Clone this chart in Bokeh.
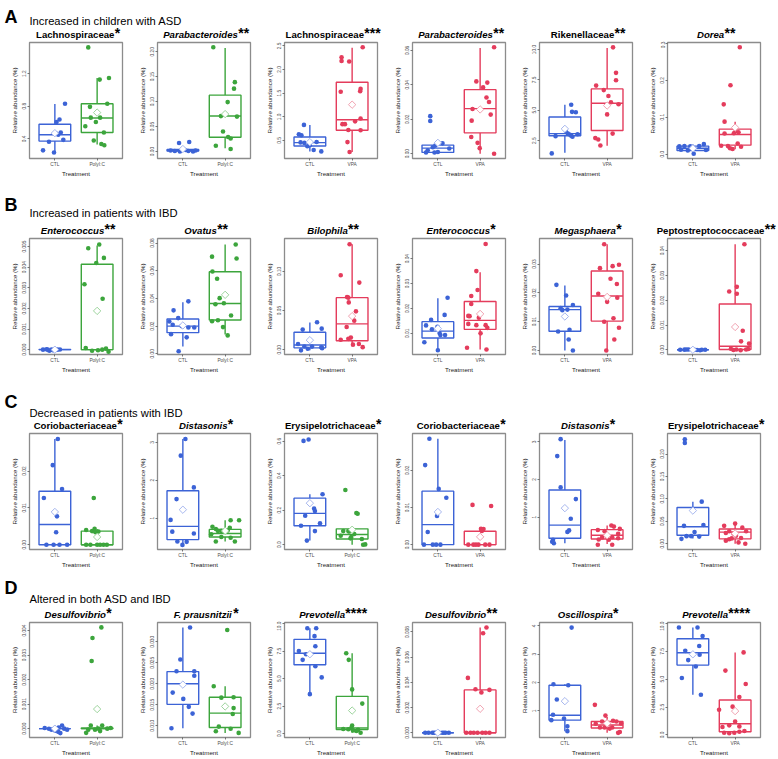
import math
from bokeh.plotting import figure
from bokeh.layouts import column, row
from bokeh.models import Range1d, FixedTicker, PrintfTickFormatter
from bokeh.core.properties import value
from bokeh.embed import file_html
from bokeh.resources import INLINE

# ---------------------------------------------------------------- text data
row_letters = ["A", "B", "C", "D"]
row_headers = ["Increased in children with ASD", "Increased in patients with IBD",
               "Decreased in patients with IBD", "Altered in both ASD and IBD"]
titles = ["Lachnospiraceae", "Parabacteroides", "Lachnospiraceae", "Parabacteroides", "Rikenellaceae", "Dorea",
          "Enterococcus", "Ovatus", "Bilophila", "Enterococcus", "Megasphaera", "Peptostreptococcaceae",
          "Coriobacteriaceae", "Distasonis", "Erysipelotrichaceae", "Coriobacteriaceae", "Distasonis", "Erysipelotrichaceae",
          "Desulfovibrio", "F. prausnitzii", "Prevotella", "Desulfovibrio", "Oscillospira", "Prevotella"]
title_italic = [False, True, False, True, False, True,
                True, True, True, True, True, False,
                False, True, False, False, True, False,
                True, True, True, True, True, True]
title_stars = ["*", "**", "***", "**", "**", "**",
               "**", "**", "**", "*", "*", "**",
               "*", "*", "*", "*", "*", "*",
               "*", "*", "****", "**", "*", "****"]
treatments = ["PolyI:C", "PolyI:C", "VPA", "VPA", "VPA", "VPA",
              "PolyI:C", "PolyI:C", "VPA", "VPA", "VPA", "VPA",
              "PolyI:C", "PolyI:C", "PolyI:C", "VPA", "VPA", "VPA",
              "PolyI:C", "PolyI:C", "PolyI:C", "VPA", "VPA", "VPA"]
x_title = "Treatment"
y_title = "Relative abundance (%)"

# ---------------------------------------------------------------- values
# box = [lower whisker, Q1, median, Q3, upper whisker]; means = [CTL, treatment]
a1_ctl = [0.83, 0.637, 0.606, 0.478, 0.47, 0.365, 0.388, 0.26, 0.233, 0.45]
a1_ctl_dx = [0.24, 0.11, 0.04, 0.14, 0.02, -0.14, 0.20, -0.28, -0.02, 0.08]
a1_trt = [1.52, 1.126, 1.146, 0.792, 0.831, 0.66, 0.66, 0.606, 0.555, 0.478, 0.38, 0.338, 0.322]
a1_trt_dx = [-0.21, 0.06, 0.28, -0.17, 0.24, -0.15, 0.07, -0.03, -0.28, 0.16, -0.08, 0.10, 0.17]
a1_box_ctl = [0.237, 0.373, 0.45, 0.579, 0.827]
a1_box_trt = [0.33, 0.478, 0.656, 0.831, 1.146]
a1_means = [0.47, 0.722]
a1_yr = [0.16, 1.58]
a1_ticks = ["0.4", "0.8", "1.2"]

a2_ctl = [0.017, 0.019, 0.005, 0.002, 0.001, 0.0, 0.003, 0.001, 0.0, 0.002]
a2_ctl_dx = [-0.09, 0.15, -0.01, -0.29, -0.19, -0.07, 0.06, 0.13, 0.24, 0.30]
a2_trt = [0.209, 0.139, 0.126, 0.099, 0.04, 0.0115, 0.005, 0.029, 0.026, 0.07, 0.071]
a2_trt_dx = [-0.28, 0.23, 0.21, 0.06, -0.05, -0.22, 0.13, 0.07, 0.13, 0.28, -0.10]
a2_box_ctl = [0.0, 0.001, 0.002, 0.004, 0.005]
a2_box_trt = [0.0064, 0.0287, 0.0713, 0.113, 0.2076]
a2_means = [0.005, 0.075]
a2_yr = [-0.014, 0.2185]
a2_ticks = ["0.00", "0.05", "0.10", "0.15", "0.20"]

a3_ctl = [0.83, 0.63, 0.61, 0.46, 0.45, 0.47, 0.30, 0.27, 0.40, 0.38]
a3_ctl_dx = [-0.14, -0.26, -0.20, -0.22, -0.13, 0.16, 0.09, 0.27, 0.0, -0.06]
a3_trt = [2.47, 2.26, 2.18, 2.17, 1.53, 1.54, 1.59, 0.845, 0.845, 0.905, 0.966, 0.723, 0.716, 0.466, 0.257]
a3_trt_dx = [0.25, -0.25, -0.25, -0.07, -0.27, 0.19, 0.20, -0.23, -0.17, 0.07, 0.20, -0.09, 0.20, -0.11, -0.06]
a3_box_ctl = [0.27, 0.385, 0.455, 0.574, 0.83]
a3_box_trt = [0.257, 0.716, 0.94, 1.73, 2.46]
a3_means = [0.466, 1.257]
a3_yr = [0.12, 2.57]
a3_ticks = ["0.5", "1.0", "1.5", "2.0", "2.5"]

a4_ctl = [0.0218, 0.019, 0.006, 0.0047, 0.0037, 0.0007, 0.0007, 0.001, 0.003, 0.002]
a4_ctl_dx = [-0.18, -0.18, 0.11, -0.06, -0.12, -0.28, -0.08, 0.0, 0.27, -0.24]
a4_trt = [0.0618, 0.042, 0.0413, 0.0385, 0.0326, 0.03, 0.026, 0.0227, 0.0192, 0.0097, 0.0063, 0.0032, 0.0]
a4_trt_dx = [0.33, -0.09, 0.17, 0.07, 0.15, 0.21, -0.18, 0.25, -0.20, -0.21, -0.06, -0.01, 0.33]
a4_box_ctl = [0.0, 0.00075, 0.0032, 0.005, 0.006]
a4_box_trt = [0.0, 0.0121, 0.0262, 0.0372, 0.0614]
a4_means = [0.0063, 0.0257]
a4_yr = [-0.0028, 0.0646]
a4_ticks = ["0.00", "0.02", "0.04", "0.06"]

a5_ctl = [5.45, 4.87, 4.84, 1.45, 2.87, 3.21, 3.08, 2.9, 2.82, 3.03, 3.0]
a5_ctl_dx = [0.15, 0.17, 0.26, -0.31, -0.22, 0.03, 0.07, 0.15, 0.18, 0.30, 0.11]
a5_trt = [10.18, 8.08, 7.47, 7.03, 6.66, 6.18, 5.66, 5.5, 4.66, 2.71, 2.6, 3.08, 2.1]
a5_trt_dx = [0.14, 0.21, 0.21, -0.26, -0.08, 0.03, 0.09, 0.27, 0.0, -0.28, -0.21, 0.13, -0.16]
a5_box_ctl = [1.5, 2.9, 3.08, 4.45, 5.45]
a5_box_trt = [2.08, 3.34, 5.58, 6.76, 10.13]
a5_means = [3.47, 5.39]
a5_yr = [1.03, 10.58]
a5_ticks = ["2.5", "5.0", "7.5", "10.0"]

a6_ctl = [0.021, 0.022, 0.021, 0.022, 0.027, 0.001, 0.0096, 0.011, 0.012, 0.0157]
a6_ctl_dx = [-0.32, -0.20, -0.06, 0.15, 0.26, 0.02, -0.12, 0.31, -0.28, -0.04]
a6_trt = [0.29, 0.187, 0.135, 0.088, 0.062, 0.059, 0.056, 0.0565, 0.0226, 0.0217, 0.0287, 0.0139, 0.02, 0.0157]
a6_trt_dx = [0.11, -0.11, -0.27, -0.25, 0.01, 0.08, -0.25, -0.03, -0.33, -0.17, 0.06, -0.06, 0.14, -0.12]
a6_box_ctl = [0.003, 0.0096, 0.0157, 0.0217, 0.027]
a6_box_trt = [0.013, 0.0243, 0.053, 0.0678, 0.088]
a6_means = [0.0157, 0.072]
a6_yr = [-0.012, 0.303]
a6_ticks = ["0.0", "0.1", "0.2", "0.3"]

b1_ctl = [0.0, 0.00002, -0.00005, 0.0, -0.00003, 0.0, 0.00001, 0.0, -0.00002, 0.0]
b1_ctl_dx = [-0.28, -0.20, -0.13, -0.08, -0.02, 0.06, 0.12, -0.17, -0.05, 0.02]
b1_trt = [0.00492, 0.0051, 0.00445, 0.0042, 0.00317, 0.00247, 0.00008, -0.00005, -0.00003, 0.00005, -0.0001, 0.0]
b1_trt_dx = [-0.21, 0.05, 0.16, -0.02, -0.30, 0.13, -0.27, -0.12, 0.02, 0.21, 0.27, 0.12]
b1_box_ctl = [0.0, 0.0, 0.0, 0.00001, 0.00002]
b1_box_trt = [0.0, 0.0, 0.0, 0.00414, 0.00505]
b1_means = [0.0, 0.00188]
b1_yr = [-0.000234, 0.00539]
b1_ticks = ["0.000", "0.001", "0.002", "0.003", "0.004", "0.005"]

b2_ctl = [0.0314, 0.0379, 0.0233, 0.0258, 0.021, 0.02, 0.019, 0.019, 0.0142, 0.0119, 0.0019]
b2_ctl_dx = [-0.22, 0.13, -0.32, -0.11, -0.24, -0.03, 0.13, 0.27, -0.28, 0.09, -0.10]
b2_trt = [0.079, 0.0702, 0.0688, 0.0595, 0.0542, 0.0402, 0.0358, 0.0365, 0.0277, 0.0235, 0.0242, 0.0193, 0.0133]
b2_trt_dx = [0.25, -0.31, 0.27, -0.30, -0.19, -0.13, -0.23, -0.03, 0.14, -0.31, -0.17, -0.05, 0.06]
b2_box_ctl = [0.0053, 0.0153, 0.02, 0.0251, 0.0372]
b2_box_trt = [0.014, 0.0244, 0.0363, 0.0593, 0.079]
b2_means = [0.0205, 0.0426]
b2_yr = [-0.0005, 0.0833]
b2_ticks = ["0.00", "0.02", "0.04", "0.06", "0.08"]

b3_ctl = [0.0351, 0.0257, 0.0269, 0.0073, -0.0008, 0.0041, 0.004, 0.003, 0.002, 0.0012]
b3_ctl_dx = [0.17, -0.17, 0.28, -0.28, -0.21, -0.13, 0.05, 0.27, 0.29, -0.05]
b3_trt = [0.1347, 0.0951, 0.0857, 0.0673, 0.0665, 0.0604, 0.049, 0.0371, 0.029, 0.0127, 0.0139, 0.0155, 0.0065, 0.0073, 0.0033]
b3_trt_dx = [-0.06, -0.27, 0.17, -0.12, -0.09, -0.08, 0.09, 0.05, -0.13, -0.27, -0.09, -0.03, 0.02, 0.16, 0.25]
b3_box_ctl = [-0.0008, 0.0024, 0.0061, 0.0224, 0.0347]
b3_box_trt = [0.0045, 0.0114, 0.033, 0.0665, 0.1347]
b3_means = [0.0122, 0.0429]
b3_yr = [-0.0061, 0.142]
b3_ticks = ["0.00", "0.05", "0.10"]

b4_ctl = [0.0243, 0.0174, 0.0154, 0.0132, 0.0116, 0.0101, 0.0093, 0.0093, 0.0064, 0.0032, 0.0126]
b4_ctl_dx = [0.23, 0.16, -0.16, -0.28, -0.14, 0.04, 0.06, 0.17, -0.32, 0.0, -0.01]
b4_trt = [0.0459, 0.035, 0.0274, 0.025, 0.0218, 0.017, 0.0169, 0.0163, 0.0138, 0.0133, 0.0133, 0.0122, 0.01, 0.0042, 0.0035]
b4_trt_dx = [0.13, -0.09, -0.06, -0.21, -0.21, -0.28, -0.25, -0.03, -0.28, -0.09, 0.13, 0.17, 0.01, -0.31, 0.15]
b4_box_ctl = [0.0032, 0.0081, 0.0109, 0.0147, 0.0241]
b4_box_trt = [0.0035, 0.0116, 0.0152, 0.0228, 0.0345]
b4_means = [0.0119, 0.0178]
b4_yr = [0.0015, 0.0481]
b4_ticks = ["0.01", "0.02", "0.03", "0.04"]

b5_ctl = [0.0228, 0.0191, 0.0147, 0.014, 0.0142, 0.0158, 0.0072, 0.0066, 0.0038, 0.0]
b5_ctl_dx = [-0.20, 0.03, -0.10, -0.06, 0.06, 0.19, 0.11, -0.16, 0.09, 0.19]
b5_trt = [0.0369, 0.0286, 0.0293, 0.0298, 0.0249, 0.0231, 0.0197, 0.0183, 0.0169, 0.0112, 0.01, 0.0079, 0.0038, 0.0]
b5_trt_dx = [-0.07, -0.17, 0.13, 0.28, 0.08, 0.23, -0.21, 0.24, 0.0, 0.15, -0.07, 0.28, 0.17, -0.02]
b5_box_ctl = [0.0, 0.0067, 0.0142, 0.0153, 0.0226]
b5_box_trt = [0.0, 0.0102, 0.0189, 0.0276, 0.0369]
b5_means = [0.0118, 0.0186]
b5_yr = [-0.0014, 0.0389]
b5_ticks = ["0.00", "0.01", "0.02", "0.03"]

b6_ctl = [0.0, 0.00005, 0.0001, 0.0, -0.0002, 0.0, 0.0, 0.0, -0.0001, 0.0001]
b6_ctl_dx = [-0.30, -0.20, -0.10, 0.04, 0.17, 0.21, 0.29, 0.0, 0.10, -0.15]
b6_trt = [0.0426, 0.0235, 0.0254, 0.0226, 0.0077, 0.0034, 0.0025, 0.0004, 0.0001, -0.0002, 0.0001, 0.0003, -0.0001]
b6_trt_dx = [0.22, -0.14, 0.04, 0.04, 0.18, 0.14, 0.33, -0.10, 0.03, 0.13, 0.26, 0.31, -0.04]
b6_box_ctl = [0.0, 0.0, 0.0, 0.0, 0.0]
b6_box_trt = [0.0, 0.0001, 0.0014, 0.0185, 0.0426]
b6_means = [0.0, 0.0092]
b6_yr = [-0.0019, 0.0449]
b6_ticks = ["0.00", "0.01", "0.02", "0.03", "0.04"]

c1_ctl = [0.0287, 0.0216, 0.0151, 0.0127, 0.0077, 0.0034, 0.0, 0.0, 0.0, 0.0]
c1_ctl_dx = [0.07, -0.05, 0.17, -0.26, 0.05, 0.03, -0.20, 0.11, 0.29, -0.03]
c1_trt = [0.0127, 0.004, 0.0037, 0.0043, 0.0034, 0.0036, 0.0, 0.0, 0.0, 0.0, 0.0, 0.0]
c1_trt_dx = [-0.08, -0.26, -0.12, -0.06, -0.04, 0.03, -0.26, -0.16, 0.0, 0.15, 0.23, 0.07]
c1_box_ctl = [0.0, 0.0, 0.0055, 0.0145, 0.0287]
c1_box_trt = [0.0, 0.0, 0.0, 0.0037, 0.0043]
c1_means = [0.0089, 0.0021]
c1_yr = [-0.0013, 0.0302]
c1_ticks = ["0.00", "0.01", "0.02"]

c2_ctl = [3.09, 2.65, 1.81, 1.5, 0.95, 0.64, 0.59, 0.38, 0.29, 0.37]
c2_ctl_dx = [0.06, -0.05, 0.26, -0.15, -0.29, -0.25, 0.26, -0.13, -0.01, 0.09]
c2_trt = [0.94, 0.94, 0.77, 0.71, 0.74, 0.66, 0.66, 0.64, 0.67, 0.57, 0.5, 0.48, 0.38, 0.38]
c2_trt_dx = [0.13, 0.33, -0.30, -0.22, 0.11, -0.17, -0.09, -0.01, 0.06, -0.33, -0.09, 0.13, -0.22, 0.23]
c2_box_ctl = [0.29, 0.43, 0.78, 1.72, 3.09]
c2_box_trt = [0.38, 0.5, 0.59, 0.7, 0.94]
c2_means = [1.22, 0.66]
c2_yr = [0.168, 3.235]
c2_ticks = ["1", "2", "3"]

c3_ctl = [0.602, 0.61, 0.293, 0.21, 0.195, 0.168, 0.125, 0.11, 0.079, 0.024]
c3_ctl_dx = [-0.15, -0.03, 0.30, 0.10, 0.12, -0.11, 0.24, -0.21, 0.12, -0.07]
c3_trt = [0.317, 0.184, 0.18, 0.079, 0.079, 0.077, 0.052, 0.037, 0.045, 0.033, 0.0, 0.002, 0.062]
c3_trt_dx = [-0.16, 0.10, 0.13, -0.21, -0.09, -0.07, -0.27, -0.04, -0.02, 0.23, 0.26, 0.31, 0.05]
c3_box_ctl = [0.024, 0.11, 0.182, 0.27, 0.293]
c3_box_trt = [0.0, 0.033, 0.059, 0.092, 0.092]
c3_means = [0.241, 0.087]
c3_yr = [-0.0276, 0.645]
c3_ticks = ["0.0", "0.2", "0.4", "0.6"]

c4_ctl = [0.0285, 0.0214, 0.015, 0.0126, 0.0077, 0.0034, 0.0, 0.0, 0.0, 0.0]
c4_ctl_dx = [-0.20, -0.30, 0.02, 0.20, -0.02, -0.24, -0.33, -0.04, 0.06, -0.12]
c4_trt = [0.0107, 0.0104, 0.0043, 0.0042, 0.0037, 0.0, 0.0, 0.0, 0.0, 0.0, 0.0]
c4_trt_dx = [-0.18, 0.26, 0.02, 0.08, 0.04, -0.28, -0.16, -0.04, 0.12, 0.22, -0.10]
c4_box_ctl = [0.0, 0.0, 0.0054, 0.0144, 0.0285]
c4_box_trt = [0.0, 0.0, 0.0, 0.0036, 0.0043]
c4_means = [0.0088, 0.0021]
c4_yr = [-0.0013, 0.0299]
c4_ticks = ["0.00", "0.01", "0.02"]

c5_ctl = [3.07, 2.62, 1.79, 1.48, 0.96, 0.65, 0.61, 0.4, 0.31, 0.35]
c5_ctl_dx = [-0.10, -0.18, -0.10, 0.26, 0.14, 0.10, 0.06, -0.28, -0.26, -0.30]
c5_trt = [0.78, 0.75, 0.69, 0.66, 0.63, 0.41, 0.46, 0.48, 0.47, 0.56, 0.44, 0.27, 0.27, 0.4]
c5_trt_dx = [0.10, 0.16, 0.30, -0.22, -0.06, -0.20, -0.12, 0.0, 0.12, 0.26, 0.26, -0.22, 0.12, 0.04]
c5_box_ctl = [0.31, 0.44, 0.79, 1.72, 3.05]
c5_box_trt = [0.29, 0.42, 0.52, 0.67, 0.78]
c5_means = [1.24, 0.52]
c5_yr = [0.143, 3.22]
c5_ticks = ["1", "2", "3"]

c6_ctl = [0.233, 0.225, 0.094, 0.04, 0.042, 0.017, 0.017, 0.011, 0.016, 0.026]
c6_ctl_dx = [-0.19, -0.19, 0.21, -0.21, 0.25, -0.04, -0.15, -0.27, 0.15, 0.04]
c6_trt = [0.045, 0.04, 0.036, 0.028, 0.028, 0.024, 0.023, 0.018, 0.013, 0.007, 0.01, 0.003, 0.0, 0.012]
c6_trt_dx = [0.0, -0.26, 0.17, 0.26, -0.14, -0.22, -0.04, 0.02, 0.14, -0.22, -0.14, 0.08, 0.24, -0.08]
c6_box_ctl = [0.012, 0.019, 0.038, 0.081, 0.094]
c6_box_trt = [0.0, 0.011, 0.026, 0.033, 0.045]
c6_means = [0.074, 0.023]
c6_yr = [-0.0128, 0.246]
c6_ticks = ["0.00", "0.05", "0.10", "0.15", "0.20"]

d1_ctl = [0.00003, 0.0, 0.00005, 0.00013, 0.0, -0.00008, -0.00018, -0.00013, -0.00004, -0.00004]
d1_ctl_dx = [-0.24, -0.14, 0.09, 0.17, 0.22, 0.01, 0.13, 0.08, 0.29, -0.08]
d1_trt = [0.00413, 0.0037, 0.00276, -0.00017, 0.00013, -0.00004, 0.0, 0.00013, 0.0, 0.00003, -0.0001, -0.00004]
d1_trt_dx = [0.10, -0.11, -0.13, -0.26, -0.15, -0.05, 0.03, 0.12, 0.24, 0.32, 0.07, -0.21]
d1_box_ctl = [0.0, 0.0, 0.0, 0.0, 0.0]
d1_box_trt = [0.0, 0.0, 0.0, 0.00003, 0.00013]
d1_means = [0.0, 0.0008]
d1_yr = [-0.00036, 0.00433]
d1_ticks = ["0.000", "0.001", "0.002", "0.003", "0.004"]

d2_ctl = [0.0334, 0.0258, 0.023, 0.023, 0.0219, 0.0179, 0.0164, 0.0145, 0.0129, 0.0094]
d2_ctl_dx = [0.17, -0.06, -0.15, 0.27, 0.27, -0.24, 0.01, 0.14, 0.23, -0.27]
d2_trt = [0.0328, 0.0194, 0.0167, 0.0168, 0.0142, 0.0128, 0.0098, 0.0087, 0.0093, 0.0083]
d2_trt_dx = [0.05, -0.27, -0.09, 0.20, 0.20, 0.18, -0.15, -0.22, 0.13, 0.32]
d2_box_ctl = [0.0094, 0.0151, 0.02, 0.0229, 0.0334]
d2_box_trt = [0.0083, 0.0096, 0.013, 0.0168, 0.0194]
d2_means = [0.0198, 0.0146]
d2_yr = [0.0072, 0.0346]
d2_ticks = ["0.010", "0.015", "0.020", "0.025", "0.030"]

d3_ctl = [9.57, 9.57, 8.85, 7.93, 7.5, 7.21, 6.7, 6.12, 5.11, 3.59]
d3_ctl_dx = [-0.06, 0.15, 0.11, 0.13, -0.26, -0.09, -0.17, 0.13, 0.28, 0.0]
d3_trt = [7.3, 6.7, 4.02, 2.73, 0.75, 0.52, 0.43, 0.4, 0.35, 0.25, 0.09, 0.3]
d3_trt_dx = [-0.14, -0.08, 0.0, 0.24, 0.0, -0.02, -0.21, -0.09, 0.14, 0.10, 0.20, 0.02]
d3_box_ctl = [3.59, 6.26, 7.3, 8.56, 9.57]
d3_box_trt = [0.09, 0.37, 0.52, 3.39, 7.3]
d3_means = [7.21, 2.1]
d3_yr = [-0.345, 10.09]
d3_ticks = ["0.0", "2.5", "5.0", "7.5", "10.0"]

d4_ctl = [0.0, 0.0, 0.0, 0.0, 0.0, 0.0, 0.0, 0.0, 0.0, 0.0]
d4_ctl_dx = [-0.30, -0.22, -0.13, -0.05, 0.03, 0.10, 0.18, 0.26, -0.09, 0.14]
d4_trt = [0.00835, 0.0079, 0.00435, 0.00345, 0.0032, 0.0034, 0.0, 0.0, 0.0, 0.0, 0.0, 0.0, 0.0]
d4_trt_dx = [0.15, 0.07, -0.29, -0.11, 0.03, 0.22, -0.33, -0.23, -0.15, -0.06, 0.05, 0.13, 0.22]
d4_box_ctl = [0.0, 0.0, 0.0, 0.0, 0.0]
d4_box_trt = [0.0, 0.0, 0.0, 0.0034, 0.00835]
d4_means = [0.0, 0.0019]
d4_yr = [-0.00038, 0.00875]
d4_ticks = ["0.000", "0.002", "0.004", "0.006", "0.008"]

d5_ctl = [3.94, 1.94, 1.9, 1.4, 0.86, 0.73, 0.67, 0.45, 0.28]
d5_ctl_dx = [0.16, -0.27, 0.08, -0.19, -0.28, -0.02, -0.32, 0.06, 0.06]
d5_trt = [1.21, 0.83, 0.62, 0.65, 0.62, 0.54, 0.56, 0.41, 0.41, 0.41, 0.55, 0.22, 0.25, 0.37]
d5_trt_dx = [-0.29, -0.04, -0.12, 0.14, 0.22, -0.27, 0.0, -0.17, -0.06, 0.12, 0.33, 0.26, 0.30, 0.06]
d5_box_ctl = [0.28, 0.67, 0.84, 1.9, 1.94]
d5_box_trt = [0.22, 0.39, 0.5, 0.62, 0.78]
d5_means = [1.34, 0.56]
d5_yr = [0.056, 4.12]
d5_ticks = ["1", "2", "3", "4"]

d6_ctl = [9.63, 9.63, 8.86, 7.97, 7.54, 7.2, 6.71, 6.14, 5.11, 3.6]
d6_ctl_dx = [-0.33, 0.11, 0.23, 0.15, -0.18, 0.16, -0.11, 0.07, -0.26, 0.19]
d6_trt = [7.4, 5.77, 4.57, 3.4, 2.26, 2.54, 1.2, 0.71, 0.86, 0.77, 0.2, 0.15, 0.2, 0.29, 0.35]
d6_trt_dx = [0.20, -0.23, 0.25, 0.10, -0.38, -0.06, 0.0, -0.30, -0.14, 0.10, -0.26, -0.14, -0.02, 0.10, 0.22]
d6_box_ctl = [3.6, 6.26, 7.37, 8.63, 9.63]
d6_box_trt = [0.06, 0.29, 1.0, 3.14, 7.4]
d6_means = [7.23, 2.14]
d6_yr = [-0.227, 10.08]
d6_ticks = ["0.0", "2.5", "5.0", "7.5", "10.0"]

PANELS = [
    (a1_ctl, a1_ctl_dx, a1_trt, a1_trt_dx, a1_box_ctl, a1_box_trt, a1_means, a1_yr, a1_ticks),
    (a2_ctl, a2_ctl_dx, a2_trt, a2_trt_dx, a2_box_ctl, a2_box_trt, a2_means, a2_yr, a2_ticks),
    (a3_ctl, a3_ctl_dx, a3_trt, a3_trt_dx, a3_box_ctl, a3_box_trt, a3_means, a3_yr, a3_ticks),
    (a4_ctl, a4_ctl_dx, a4_trt, a4_trt_dx, a4_box_ctl, a4_box_trt, a4_means, a4_yr, a4_ticks),
    (a5_ctl, a5_ctl_dx, a5_trt, a5_trt_dx, a5_box_ctl, a5_box_trt, a5_means, a5_yr, a5_ticks),
    (a6_ctl, a6_ctl_dx, a6_trt, a6_trt_dx, a6_box_ctl, a6_box_trt, a6_means, a6_yr, a6_ticks),
    (b1_ctl, b1_ctl_dx, b1_trt, b1_trt_dx, b1_box_ctl, b1_box_trt, b1_means, b1_yr, b1_ticks),
    (b2_ctl, b2_ctl_dx, b2_trt, b2_trt_dx, b2_box_ctl, b2_box_trt, b2_means, b2_yr, b2_ticks),
    (b3_ctl, b3_ctl_dx, b3_trt, b3_trt_dx, b3_box_ctl, b3_box_trt, b3_means, b3_yr, b3_ticks),
    (b4_ctl, b4_ctl_dx, b4_trt, b4_trt_dx, b4_box_ctl, b4_box_trt, b4_means, b4_yr, b4_ticks),
    (b5_ctl, b5_ctl_dx, b5_trt, b5_trt_dx, b5_box_ctl, b5_box_trt, b5_means, b5_yr, b5_ticks),
    (b6_ctl, b6_ctl_dx, b6_trt, b6_trt_dx, b6_box_ctl, b6_box_trt, b6_means, b6_yr, b6_ticks),
    (c1_ctl, c1_ctl_dx, c1_trt, c1_trt_dx, c1_box_ctl, c1_box_trt, c1_means, c1_yr, c1_ticks),
    (c2_ctl, c2_ctl_dx, c2_trt, c2_trt_dx, c2_box_ctl, c2_box_trt, c2_means, c2_yr, c2_ticks),
    (c3_ctl, c3_ctl_dx, c3_trt, c3_trt_dx, c3_box_ctl, c3_box_trt, c3_means, c3_yr, c3_ticks),
    (c4_ctl, c4_ctl_dx, c4_trt, c4_trt_dx, c4_box_ctl, c4_box_trt, c4_means, c4_yr, c4_ticks),
    (c5_ctl, c5_ctl_dx, c5_trt, c5_trt_dx, c5_box_ctl, c5_box_trt, c5_means, c5_yr, c5_ticks),
    (c6_ctl, c6_ctl_dx, c6_trt, c6_trt_dx, c6_box_ctl, c6_box_trt, c6_means, c6_yr, c6_ticks),
    (d1_ctl, d1_ctl_dx, d1_trt, d1_trt_dx, d1_box_ctl, d1_box_trt, d1_means, d1_yr, d1_ticks),
    (d2_ctl, d2_ctl_dx, d2_trt, d2_trt_dx, d2_box_ctl, d2_box_trt, d2_means, d2_yr, d2_ticks),
    (d3_ctl, d3_ctl_dx, d3_trt, d3_trt_dx, d3_box_ctl, d3_box_trt, d3_means, d3_yr, d3_ticks),
    (d4_ctl, d4_ctl_dx, d4_trt, d4_trt_dx, d4_box_ctl, d4_box_trt, d4_means, d4_yr, d4_ticks),
    (d5_ctl, d5_ctl_dx, d5_trt, d5_trt_dx, d5_box_ctl, d5_box_trt, d5_means, d5_yr, d5_ticks),
    (d6_ctl, d6_ctl_dx, d6_trt, d6_trt_dx, d6_box_ctl, d6_box_trt, d6_means, d6_yr, d6_ticks),
]

# ---------------------------------------------------------------- style / layout
FONT = "Liberation Sans"
BLUE = "#3c63d6"
GREEN = "#3ca53c"
RED = "#e43c5c"
TINT = {BLUE: "#a6b6ee", GREEN: "#9dd49d", RED: "#f1a2b1"}
FRAME_COL = "#8c8c8c"

TOTAL_W = 778
PANEL_W = [128, 127, 128, 127, 128, 140]
FRAME_L = 29
FRAME_W = 93
FRAME_H = [121, 121, 121, 120]
BORDER_TOP = 1
BORDER_BOTTOM = 16
HEAD_H = [41, 58, 57, 51]
# intended baselines, measured upward from the bottom of each header strip
LETTER_Y = [19, 27, 25, 28]
HEADTXT_Y = [17.5, 21, 16, 19]
TITLE_Y = 4
LETTER_FS = 18
HEAD_FS = 11.2
TITLE_FS = 9.6
STAR_FS = 14
BASE_FIX = 0.3   # glyph text is drawn about 0.3 em below the requested alphabetic baseline

# Arial/Liberation Sans Bold advance widths (1/1000 em)
WB = {'a': 556, 'b': 611, 'c': 556, 'd': 611, 'e': 556, 'f': 333, 'g': 611, 'h': 611, 'i': 278,
      'j': 278, 'k': 556, 'l': 278, 'm': 889, 'n': 611, 'o': 611, 'p': 611, 'q': 611, 'r': 389,
      's': 556, 't': 333, 'u': 611, 'v': 556, 'w': 778, 'x': 556, 'y': 556, 'z': 500, ' ': 278,
      '.': 278, 'A': 722, 'B': 722, 'C': 722, 'D': 722, 'E': 667, 'F': 611, 'L': 611, 'M': 833,
      'O': 778, 'P': 667, 'R': 722}


def text_w(s, fs):
    return sum(WB.get(ch, 556) for ch in s) * fs / 1000.0


def put_text(h, x, y, s, fs, style):
    h.text(x=[x], y=[y + BASE_FIX * fs], text=[s], text_font=value(FONT),
           text_font_size=value(str(fs) + "px"), text_font_style=style, text_color="black",
           text_baseline="alphabetic", text_align="left")


def header(r):
    H = HEAD_H[r]
    h = figure(width=TOTAL_W, height=H, x_range=Range1d(0, TOTAL_W), y_range=Range1d(0, H),
               x_axis_location=None, y_axis_location=None, min_border=0, title=None,
               output_backend="svg", toolbar_location=None)
    h.outline_line_color = None
    h.grid.visible = False
    h.background_fill_color = "white"
    h.border_fill_color = "white"
    put_text(h, 4, LETTER_Y[r], row_letters[r], LETTER_FS, "bold")
    put_text(h, 29, HEADTXT_Y[r], row_headers[r], HEAD_FS, "normal")
    left = 0
    for i in range(6):
        k = r * 6 + i
        cx = left + FRAME_L + FRAME_W / 2.0
        left += PANEL_W[i]
        wn = text_w(titles[k], TITLE_FS)
        ws = len(title_stars[k]) * 0.389 * STAR_FS
        x0 = cx - (wn + ws) / 2.0 + 2
        x0 = min(x0, TOTAL_W - 3 - wn - ws)
        put_text(h, x0, TITLE_Y, titles[k], TITLE_FS, "bold italic" if title_italic[k] else "bold")
        put_text(h, x0 + wn + 0.3, TITLE_Y, title_stars[k], STAR_FS, "bold")
    return h


def panel(r, i):
    k = r * 6 + i
    ctl, cdx, trt, tdx, bc, bt, mn, yr, tk = PANELS[k]
    tcol = GREEN if treatments[k] == "PolyI:C" else RED
    W = PANEL_W[i]
    p = figure(width=W, height=BORDER_TOP + FRAME_H[r] + BORDER_BOTTOM,
               x_range=Range1d(0.4, 2.6), y_range=Range1d(yr[0], yr[1]),
               min_border_left=FRAME_L, min_border_right=W - FRAME_L - FRAME_W,
               min_border_top=BORDER_TOP, min_border_bottom=BORDER_BOTTOM, title=None,
               output_backend="svg", toolbar_location=None)
    p.outline_line_color = FRAME_COL
    p.outline_line_width = 1.3
    p.grid.visible = False
    p.background_fill_color = "white"
    p.border_fill_color = "white"

    p.xaxis.ticker = FixedTicker(ticks=[1, 2])
    p.xaxis.major_label_overrides = {1: "CTL", 2: treatments[k]}
    p.xaxis.axis_label = x_title
    p.yaxis.axis_label = y_title
    p.yaxis.ticker = FixedTicker(ticks=[float(t) for t in tk])
    dec = len(tk[0].split(".")[1]) if "." in tk[0] else 0
    p.yaxis.formatter = PrintfTickFormatter(format="%." + str(dec) + "f")
    p.yaxis.major_label_orientation = "vertical"
    for ax in p.axis:
        ax.axis_line_color = None
        ax.major_tick_line_color = "#555555"
        ax.major_tick_line_width = 0.8
        ax.major_tick_out = 2
        ax.major_tick_in = 0
        ax.minor_tick_line_color = None
        ax.major_label_text_font = FONT
        ax.major_label_text_font_size = "4.8px"
        ax.major_label_text_color = "#4d4d4d"
        ax.major_label_standoff = 1
        ax.axis_label_text_font = FONT
        ax.axis_label_text_font_size = "6.2px"
        ax.axis_label_text_font_style = "normal"
        ax.axis_label_text_color = "#222222"
        ax.axis_label_standoff = 2
    p.xaxis.axis_label_standoff = 0

    hw = 0.375
    for cx, vals, dxs, box, m, col in [(1, ctl, cdx, bc, mn[0], BLUE), (2, trt, tdx, bt, mn[1], tcol)]:
        lo, q1, md, q3, hi = box
        p.segment(x0=[cx, cx], y0=[q3, q1], x1=[cx, cx], y1=[hi, lo], line_color=col, line_width=1.4)
        p.quad(left=[cx - hw], right=[cx + hw], bottom=[q1], top=[q3], fill_color="white",
               line_color=col, line_width=1.4)
        p.segment(x0=[cx - hw], y0=[md], x1=[cx + hw], y1=[md], line_color=col, line_width=1.4)
        p.scatter(x=[cx + d for d in dxs], y=vals, size=4.6, fill_color=col, line_color=None)
        p.scatter(x=[cx], y=[m], marker="square", angle=math.pi / 4, size=5.2,
                  fill_color="white", line_color=TINT[col], line_width=1)
    return p


children = []
for r in range(4):
    children.append(header(r))
    children.append(row([panel(r, i) for i in range(6)], spacing=0))

layout = column(children, spacing=0)
open("out.html", "w").write(file_html(layout, INLINE, title="Relative abundance boxplots"))
